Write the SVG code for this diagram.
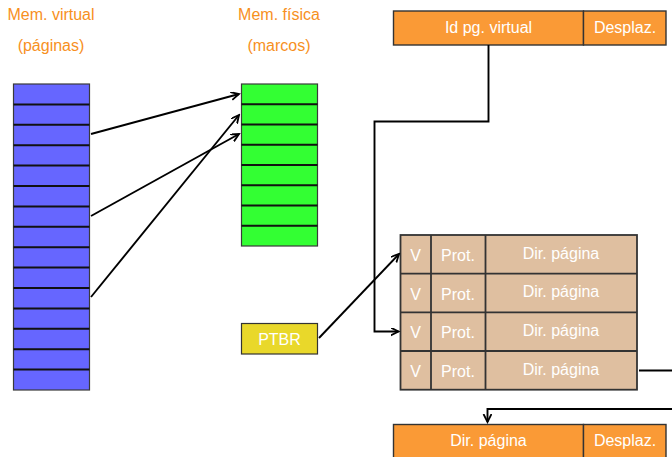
<svg xmlns="http://www.w3.org/2000/svg" width="672" height="457" viewBox="0 0 672 457">
  <style>
    text { font-family: "Liberation Sans", Arial, sans-serif; font-size: 16px; text-anchor: middle; }
    .title { fill: #F7901E; }
    .light { fill: #ffffff; }
    .blue { fill: #6666FF; stroke: #3a3a3a; stroke-width: 1.2; }
    .green { fill: #33FF33; stroke: #3a3a3a; stroke-width: 1.2; }
    .sep { stroke: #111; stroke-width: 2; }
    .orange { fill: #FA9A36; stroke: #333; stroke-width: 1.4; }
    .tan { fill: #DFBFA0; stroke: #333; stroke-width: 1.8; }
    .ptbr { fill: #E9D82A; stroke: #333; stroke-width: 1.2; }
    .wire { fill: none; stroke: #000; stroke-width: 1.9; }
  </style>
  <defs>
    <marker id="head" markerWidth="10" markerHeight="10" refX="8" refY="4" orient="auto" markerUnits="userSpaceOnUse">
      <path d="M0,0 L8,4 L0,8" fill="none" stroke="#000" stroke-width="1.8"/>
    </marker>
  </defs>

  <!-- headings -->
  <g id="titles">
    <text class="title" x="51" y="20">Mem. virtual</text>
    <text class="title" x="51" y="51">(páginas)</text>
    <text class="title" x="279" y="20">Mem. física</text>
    <text class="title" x="279" y="51">(marcos)</text>
  </g>

  <!-- virtual memory: 15 pages -->
  <g id="virtual-memory">
    <rect class="blue" x="13.5" y="84" width="76" height="306"/>
    <path class="sep" d="M13.5,104.4H89.5M13.5,124.8H89.5M13.5,145.2H89.5M13.5,165.6H89.5M13.5,186H89.5M13.5,206.4H89.5M13.5,226.8H89.5M13.5,247.2H89.5M13.5,267.6H89.5M13.5,288H89.5M13.5,308.4H89.5M13.5,328.8H89.5M13.5,349.2H89.5M13.5,369.6H89.5"/>
  </g>

  <!-- physical memory: 8 frames -->
  <g id="physical-memory">
    <rect class="green" x="241.5" y="84" width="76" height="162"/>
    <path class="sep" d="M241.5,104.25H317.5M241.5,124.5H317.5M241.5,144.75H317.5M241.5,165H317.5M241.5,185.25H317.5M241.5,205.5H317.5M241.5,225.75H317.5"/>
  </g>

  <!-- page table base register -->
  <g id="ptbr">
    <rect class="ptbr" x="241.5" y="323.5" width="76" height="30.5"/>
    <text class="light" x="279.5" y="345">PTBR</text>
  </g>

  <!-- virtual address -->
  <g id="virtual-address">
    <rect class="orange" x="393.5" y="11" width="190" height="34"/>
    <rect class="orange" x="583.5" y="11" width="82.5" height="34"/>
    <text class="light" x="488.5" y="33">Id pg. virtual</text>
    <text class="light" x="625" y="33">Desplaz.</text>
  </g>

  <!-- page table -->
  <g id="page-table">
    <rect class="tan" x="400.5" y="235" width="236.5" height="154.7"/>
    <path class="tan" d="M400.5,273.7H637M400.5,312.3H637M400.5,351H637M431,235V389.7M485.5,235V389.7"/>
    <g class="light">
      <text x="415.5" y="261">V</text><text x="458" y="261">Prot.</text><text x="561" y="258.5">Dir. página</text>
      <text x="415.5" y="299.5">V</text><text x="458" y="299.5">Prot.</text><text x="561" y="297">Dir. página</text>
      <text x="415.5" y="338">V</text><text x="458" y="338">Prot.</text><text x="561" y="335.5">Dir. página</text>
      <text x="415.5" y="377">V</text><text x="458" y="377">Prot.</text><text x="561" y="374.5">Dir. página</text>
    </g>
  </g>

  <!-- physical address -->
  <g id="physical-address">
    <rect class="orange" x="393.5" y="424.5" width="190" height="40"/>
    <rect class="orange" x="583.5" y="424.5" width="82.5" height="40"/>
    <text class="light" x="488.5" y="446">Dir. página</text>
    <text class="light" x="625" y="446">Desplaz.</text>
  </g>

  <!-- connectors -->
  <g id="connectors">
    <line class="wire" x1="91" y1="134" x2="239" y2="94" marker-end="url(#head)"/>
    <line class="wire" x1="91" y1="216" x2="239" y2="134" marker-end="url(#head)"/>
    <line class="wire" x1="91" y1="297" x2="239" y2="115" marker-end="url(#head)"/>
    <line class="wire" x1="319" y1="338" x2="399" y2="254" marker-end="url(#head)"/>
    <path class="wire" d="M488.5,45V121.5H374.5V331.5H398.5" marker-end="url(#head)"/>
    <path class="wire" d="M639,370.5H672"/>
    <path class="wire" d="M672,409H487.5V422" marker-end="url(#head)"/>
  </g>
</svg>
